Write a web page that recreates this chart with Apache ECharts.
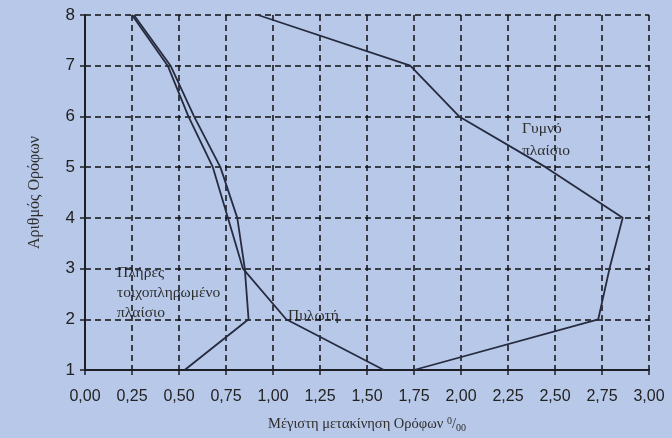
<!DOCTYPE html>
<html><head><meta charset="utf-8">
<script src="https://cdn.jsdelivr.net/npm/echarts@6/dist/echarts.min.js"></script>
<style>html,body{margin:0;padding:0;background:#b7c8e8}#c{width:672px;height:438px}</style>
</head><body><div id="c"></div>
<script>
const floors = [1, 2, 3, 4, 5, 6, 7, 8];
const bareFrame = [1.75, 2.73, 2.79, 2.86, 2.45, 1.99, 1.73, 0.92];
const pilotis = [1.59, 1.07, 0.84, 0.76, 0.68, 0.55, 0.44, 0.25];
const infilled = [0.53, 0.87, 0.85, 0.81, 0.72, 0.58, 0.455, 0.26];
const seriesNames = ['Γυμνό πλαίσιο', 'Πυλωτή', 'Πλήρες τοιχοπληρωμένο πλαίσιο'];

const pairs = arr => arr.map((v, i) => [v, floors[i]]);
const lineStyle = { color: '#262b40', width: 1.8 };
const serif = '"Liberation Serif", "DejaVu Serif", serif';
const sans = '"Liberation Sans", Arial, sans-serif';
const txt = '#2e2e2e';

const chart = echarts.init(document.getElementById('c'));
chart.setOption({
  backgroundColor: '#b7c8e8',
  animation: false,
  grid: { left: 85, right: 23, top: 15, bottom: 66 },
  xAxis: {
    type: 'value', min: 0, max: 3, interval: 0.25,
    name: '{t|Μέγιστη μετακίνηση Ορόφων }{sup|0}{t|/}{sub|00}',
    nameLocation: 'middle', nameGap: 46,
    nameTextStyle: {
      rich: {
        t: { fontFamily: serif, fontSize: 14.5, color: txt },
        sup: { fontFamily: serif, fontSize: 10, color: txt, verticalAlign: 'top', padding: [0, 0, 7, 0] },
        sub: { fontFamily: serif, fontSize: 10, color: txt, verticalAlign: 'bottom', padding: [5, 0, 0, 0] }
      }
    },
    axisLine: { show: true, onZero: false, lineStyle: { color: '#1e1e26', width: 2 } },
    axisTick: { show: true, length: 5, lineStyle: { color: '#1e1e26', width: 1.5 } },
    axisLabel: { fontFamily: sans, fontSize: 16, color: '#222', margin: 19,
      formatter: v => v.toFixed(2).replace('.', ',') },
    splitLine: { show: true, lineStyle: { color: '#111', width: 1.5, type: [6, 4] } }
  },
  yAxis: {
    type: 'value', min: 1, max: 8, interval: 1,
    name: 'Αριθμός Ορόφων', nameLocation: 'middle', nameGap: 42, nameRotate: 90,
    nameTextStyle: { fontFamily: serif, fontSize: 16, color: txt },
    axisLine: { show: true, onZero: false, lineStyle: { color: '#1e1e26', width: 2 } },
    axisTick: { show: true, length: 5, lineStyle: { color: '#1e1e26', width: 1.5 } },
    axisLabel: { fontFamily: sans, fontSize: 17, color: '#222', margin: 10 },
    splitLine: { show: true, lineStyle: { color: '#111', width: 1.5, type: [6, 4] } }
  },
  series: [
    { name: seriesNames[0], type: 'line', data: pairs(bareFrame), symbol: 'none', lineStyle },
    { name: seriesNames[1], type: 'line', data: pairs(pilotis), symbol: 'none', lineStyle },
    { name: seriesNames[2], type: 'line', data: pairs(infilled), symbol: 'none', lineStyle }
  ],
  graphic: [
    { type: 'text', left: 522, top: 118, style: { text: 'Γυμνό\nπλαίσιο', fontFamily: serif, fontSize: 15.5, lineHeight: 22, fill: txt } },
    { type: 'text', left: 117, top: 263, style: { text: 'Πλήρες\nτοιχοπληρωμένο\nπλαίσιο', fontFamily: serif, fontSize: 15.5, lineHeight: 20, fill: txt } },
    { type: 'text', left: 288, top: 308, style: { text: 'Πυλωτή', fontFamily: serif, fontSize: 15.5, fill: txt } }
  ]
});
</script></body></html>
